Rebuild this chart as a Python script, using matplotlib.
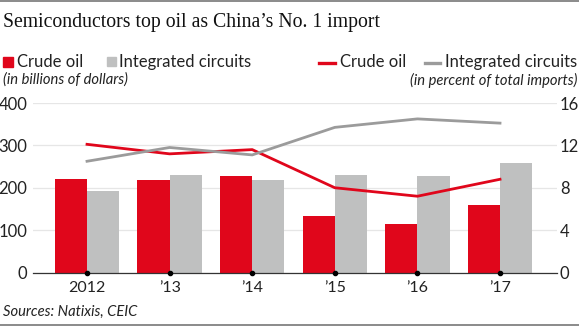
import numpy as np
import matplotlib
matplotlib.use("Agg")
from matplotlib import pyplot as plt
from matplotlib.lines import Line2D
from matplotlib.patches import Rectangle

years = ['2012', '\u201913', '\u201914', '\u201915', '\u201916', '\u201917']
oil_bn = [220, 218, 228, 133, 115, 160]
chips_bn = [192, 230, 218, 230, 228, 259]
oil_pct = [12.1, 11.2, 11.6, 8.0, 7.2, 8.8]
chips_pct = [10.5, 11.8, 11.1, 13.7, 14.5, 14.1]

RED = '#e0061b'
BAR_GRAY = '#bfc0c0'
LINE_GRAY = '#9b9b9b'
SANS = 'Lato'
INK = '#222222'

W, H = 579, 326
fig = plt.figure(figsize=(W / 100, H / 100), dpi=100)

def fx(px):
    return px / W

def fy(py):
    return 1 - py / H

ax = fig.add_axes([fx(33), fy(272.5), fx(557) - fx(33), fy(103) - fy(272.5)])
ax2 = ax.twinx()

x = np.arange(len(years))
bw = 0.39
ax.bar(x - bw / 2, oil_bn, bw, color=RED, zorder=2)
ax.bar(x + bw / 2, chips_bn, bw, color=BAR_GRAY, zorder=2)
ax.set_xlim(-0.654, 5.69)
ax.set_ylim(0, 400)
ax.set_yticks([0, 100, 200, 300, 400])
ax.set_xticks(x)
ax.set_xticklabels(years)
ax.grid(axis='y', color='#e6e6e6', linewidth=0.9, zorder=0)
ax.set_axisbelow(True)
for s in ['top', 'left', 'right']:
    ax.spines[s].set_visible(False)
ax.spines['bottom'].set_color('#333333')
ax.spines['bottom'].set_linewidth(0.9)
ax.spines['bottom'].set_zorder(3)
ax.tick_params(axis='y', length=0, pad=4, labelsize=12, labelcolor=INK)
ax.tick_params(axis='x', length=0, pad=6, labelsize=11.5, labelcolor=INK)
ax.scatter(x, np.zeros(len(x)), s=9, color='black', zorder=5, clip_on=False)
for lab in ax.get_xticklabels() + ax.get_yticklabels():
    lab.set_family(SANS)

ax2.plot(x, oil_pct, color=RED, linewidth=2.0, zorder=4)
ax2.plot(x, chips_pct, color=LINE_GRAY, linewidth=2.0, zorder=4)
ax2.set_ylim(0, 16)
ax2.set_yticks([0, 4, 8, 12, 16])
for s in ['top', 'left', 'right', 'bottom']:
    ax2.spines[s].set_visible(False)
ax2.tick_params(axis='y', length=0, pad=2, labelsize=12, labelcolor=INK)
for lab in ax2.get_yticklabels():
    lab.set_family(SANS)

# title and rules
fig.text(fx(3), fy(23), 'Semiconductors top oil as China\u2019s No. 1 import',
         family='Liberation Serif', fontsize=14.2, color='#111111', va='center')
fig.add_artist(Line2D([0, 1], [fy(0.8), fy(0.8)], color='#777777', linewidth=1.2))
fig.add_artist(Line2D([0, 1], [fy(325), fy(325)], color='#777777', linewidth=1.2))

# left legend
ly = 62
fig.add_artist(Rectangle((fx(3), fy(67)), fx(10), fy(57) - fy(67), color=RED))
fig.text(fx(17), fy(ly), 'Crude oil', family=SANS, fontsize=12, va='center', color=INK)
fig.add_artist(Rectangle((fx(107), fy(66)), fx(9), fy(57) - fy(66), color=BAR_GRAY))
fig.text(fx(119), fy(ly), 'Integrated circuits', family=SANS, fontsize=12, va='center', color=INK)
fig.text(fx(3), fy(80), '(in billions of dollars)', family=SANS, style='italic',
         fontsize=10.6, va='center', color=INK)

# right legend
fig.add_artist(Line2D([fx(319), fx(335)], [fy(ly + 1), fy(ly + 1)], color=RED, linewidth=2.4))
fig.text(fx(340), fy(ly), 'Crude oil', family=SANS, fontsize=12, va='center', color=INK)
fig.add_artist(Line2D([fx(425), fx(440)], [fy(ly + 1), fy(ly + 1)], color=LINE_GRAY, linewidth=2.4))
fig.text(fx(577), fy(ly), 'Integrated circuits', family=SANS, fontsize=12, va='center',
         ha='right', color=INK)
fig.text(fx(577), fy(80), '(in percent of total imports)', family=SANS, style='italic',
         fontsize=10.6, va='center', ha='right', color=INK)

fig.text(fx(3), fy(312), 'Sources: Natixis, CEIC', family=SANS, style='italic',
         fontsize=10.6, va='center', color=INK)

plt.savefig('out.png', dpi=100)
